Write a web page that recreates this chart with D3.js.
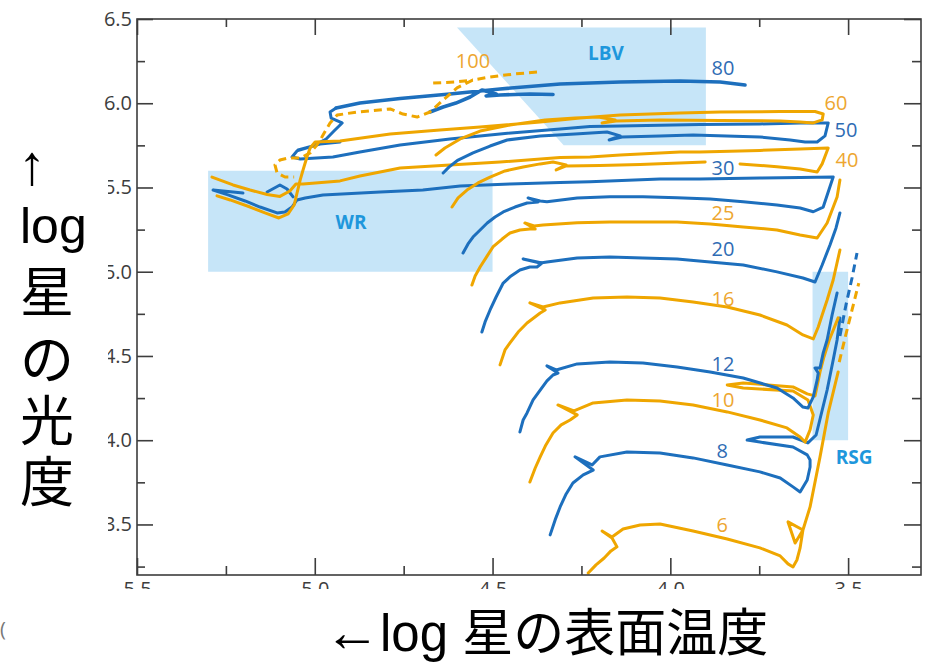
<!DOCTYPE html>
<html>
<head>
<meta charset="utf-8">
<script src="https://cdn.jsdelivr.net/npm/d3@7"></script>
<style>
  html, body { margin: 0; padding: 0; background: #fff; }
  svg { display: block; }
</style>
</head>
<body>
<svg id="chart" width="926" height="664"></svg>
<script>
// ---- Axis ticks -------------------------------------------------------
const xMajorTicks = [5.5, 5.0, 4.5, 4.0, 3.5];
const xMinorTicks = [5.25, 4.75, 4.25, 3.75];
const yMajorTicks = [6.5, 6.0, 5.5, 5.0, 4.5, 4.0, 3.5];
const yMinorTicks = [6.25, 5.75, 5.25, 4.75, 4.25, 3.75, 3.25];

// ---- Evolutionary tracks: [log Teff, log L]; null breaks a track -----
const track100 = [[4.375,6.185],[4.437,6.174],[4.507,6.156],[4.555,6.138],[4.600,6.091],[4.639,6.019],[4.676,5.948],[4.712,5.918],[4.752,5.936],[4.788,5.966],[4.881,5.948],[4.937,5.930],[4.957,5.883],[4.980,5.800],[4.994,5.752],[5.013,5.705],[5.041,5.675],[5.075,5.675],[5.098,5.663],[5.112,5.634],[5.106,5.586],[5.084,5.562],[5.058,5.562],
  null,[4.667,6.120],[4.606,6.126],[4.555,6.138]];

const track80 = [[4.676,5.948],[4.639,5.978],[4.603,6.001],[4.563,6.037],[4.530,6.079],[4.490,6.055],[4.518,6.043],[4.479,6.049],[4.395,6.055],[4.330,6.052],
  null,[4.940,5.972],[4.873,6.001],[4.760,6.028],[4.620,6.055],[4.479,6.085],[4.310,6.114],[4.141,6.126],[3.973,6.132],[3.860,6.126],[3.790,6.108]];

const track60 = [[4.659,5.693],[4.634,5.734],[4.591,5.788],[4.535,5.835],[4.451,5.871],[4.352,5.901],[4.268,5.912],[4.203,5.918],[4.155,5.901],[4.192,5.883],[4.153,5.895],[4.029,5.901],[3.860,5.898],[3.691,5.895],[3.635,5.889],[3.598,5.883],[3.573,5.901],[3.570,5.936],[3.593,5.951],[3.691,5.951],[3.860,5.948],[3.973,5.942],[4.141,5.930],[4.254,5.912],[4.366,5.889],[4.535,5.859],[4.648,5.841],[4.788,5.818],[4.929,5.776],[4.999,5.770],[5.013,5.734],[5.022,5.681],[5.033,5.604],[5.041,5.545],[5.050,5.467],[5.058,5.396],[5.075,5.343],[5.101,5.319],[5.140,5.349],[5.182,5.384],[5.238,5.426],[5.275,5.450]];

const track50 = [[4.639,5.586],[4.622,5.622],[4.597,5.663],[4.555,5.705],[4.507,5.746],[4.459,5.782],[4.366,5.806],[4.268,5.818],[4.178,5.829],[4.141,5.806],[4.172,5.782],[4.136,5.800],[4.029,5.806],[3.936,5.812],[3.748,5.800],[3.663,5.782],[3.621,5.770],[3.587,5.770],[3.565,5.806],[3.556,5.883],[3.635,5.883],[3.748,5.877],[3.917,5.874],[4.141,5.865],[4.226,5.862],[4.310,5.847],[4.479,5.818],[4.620,5.788],[4.760,5.752],[4.873,5.711],[4.949,5.681],[5.041,5.669],[5.064,5.681],[5.050,5.717],[5.005,5.746],[4.968,5.788],[4.946,5.835],[4.923,5.883],[4.954,5.912],[4.957,5.948],[4.940,5.972],
  null,[5.047,5.723],[4.985,5.758],[4.929,5.770]];

const track40 = [[4.614,5.384],[4.597,5.438],[4.572,5.485],[4.541,5.527],[4.507,5.562],[4.465,5.598],[4.414,5.622],[4.366,5.640],[4.330,5.651],[4.293,5.634],[4.321,5.604],[4.293,5.628],[4.198,5.631],[4.085,5.637],[3.902,5.651],
  null,[3.804,5.640],[3.700,5.623],[3.635,5.610],[3.587,5.592],[3.573,5.640],[3.556,5.734],[3.635,5.728],[3.748,5.720],[3.917,5.711],[3.973,5.711],[4.141,5.693],[4.226,5.681],[4.310,5.678],[4.479,5.651],[4.620,5.634],[4.760,5.616],[4.788,5.604],[4.873,5.568],[4.929,5.539],[5.033,5.521],[5.053,5.521],[5.070,5.479],[5.098,5.447],[5.134,5.458],[5.182,5.485],[5.230,5.515],[5.289,5.562]];

const track30 = [[4.583,5.111],[4.569,5.165],[4.555,5.206],[4.535,5.248],[4.515,5.289],[4.493,5.325],[4.470,5.355],[4.437,5.384],[4.403,5.408],[4.372,5.414],[4.400,5.438],[4.366,5.420],[4.347,5.416],[4.262,5.438],[4.170,5.445],[4.077,5.445],[3.981,5.439],[3.888,5.432],[3.795,5.416],[3.700,5.396],[3.635,5.378],[3.598,5.356],[3.570,5.384],[3.542,5.562],[3.635,5.559],[3.748,5.556],[3.917,5.550],[4.029,5.550],[4.226,5.534],[4.310,5.530],[4.451,5.521],[4.591,5.509],[4.696,5.485],[4.816,5.473],[4.977,5.456],[5.027,5.438],[5.050,5.426],[5.064,5.384],[5.084,5.355],[5.106,5.349],[5.154,5.384],[5.196,5.420],[5.244,5.456],[5.286,5.485],[5.202,5.467],
  null,[5.134,5.473],[5.098,5.515],[5.078,5.491],[5.061,5.444]];

const track25 = [[4.558,4.921],[4.549,4.975],[4.535,5.028],[4.515,5.094],[4.499,5.147],[4.473,5.194],[4.451,5.230],[4.423,5.248],[4.395,5.254],[4.380,5.254],[4.409,5.289],[4.383,5.272],[4.358,5.277],[4.262,5.291],[4.170,5.295],[4.077,5.295],[3.981,5.295],[3.888,5.283],[3.795,5.266],[3.700,5.248],[3.635,5.218],[3.587,5.200],[3.559,5.289],[3.531,5.444],[3.523,5.545]];

const track20 = [[4.530,4.642],[4.521,4.702],[4.507,4.773],[4.490,4.850],[4.470,4.933],[4.448,4.975],[4.423,5.010],[4.395,5.028],[4.375,5.028],[4.361,5.052],[4.414,5.076],[4.366,5.052],[4.347,5.058],[4.262,5.082],[4.170,5.088],[4.077,5.082],[3.981,5.076],[3.888,5.058],[3.795,5.040],[3.700,4.999],[3.627,4.963],[3.593,4.939],[3.573,5.040],[3.551,5.159],[3.534,5.260],[3.523,5.349]];

const track16 = [[4.479,4.447],[4.465,4.536],[4.451,4.577],[4.428,4.642],[4.403,4.696],[4.366,4.755],[4.352,4.773],[4.395,4.815],[4.358,4.791],[4.310,4.815],[4.217,4.844],[4.122,4.850],[4.029,4.844],[3.936,4.820],[3.840,4.791],[3.748,4.743],[3.672,4.684],[3.627,4.625],[3.598,4.601],[3.584,4.672],[3.573,4.743],[3.559,4.832],[3.542,4.951],[3.523,5.129]];

const track12 = [[4.423,4.049],[4.414,4.120],[4.403,4.162],[4.386,4.239],[4.366,4.298],[4.347,4.352],[4.330,4.387],[4.316,4.399],[4.347,4.441],[4.321,4.417],[4.262,4.453],[4.170,4.464],[4.077,4.458],[3.981,4.435],[3.888,4.405],[3.795,4.369],[3.700,4.310],[3.655,4.251],[3.627,4.197],[3.613,4.191],[3.598,4.257],[3.587,4.358],[3.584,4.399],[3.593,4.429],[3.579,4.429],[3.570,4.518],[3.559,4.595],[3.545,4.743],[3.531,4.874]];

const track10 = [[4.395,3.752],[4.380,3.835],[4.366,3.901],[4.350,3.972],[4.330,4.043],[4.307,4.091],[4.282,4.120],[4.262,4.150],[4.316,4.209],[4.271,4.174],[4.217,4.221],[4.122,4.239],[4.029,4.233],[3.936,4.209],[3.840,4.168],[3.748,4.120],[3.672,4.073],[3.635,4.019],[3.621,3.989],[3.607,4.061],[3.598,4.150],[3.613,4.239],[3.655,4.292],[3.795,4.310],[3.840,4.328],[3.795,4.340],[3.655,4.316],[3.615,4.275],[3.593,4.263],[3.579,4.405],[3.568,4.494],[3.553,4.595],[3.528,4.726]];

const track8 = [[4.338,3.438],[4.324,3.527],[4.310,3.604],[4.293,3.681],[4.274,3.746],[4.245,3.794],[4.217,3.823],[4.268,3.901],[4.220,3.853],[4.198,3.901],[4.122,3.930],[4.029,3.924],[3.936,3.895],[3.840,3.853],[3.748,3.812],[3.691,3.776],[3.655,3.723],[3.635,3.693],[3.615,3.764],[3.607,3.841],[3.607,3.883],[3.615,3.913],[3.655,3.960],[3.748,3.989],[3.784,4.001],[3.748,4.019],[3.655,4.019],[3.613,3.984],[3.590,4.031],[3.559,4.298],[3.542,4.476],[3.531,4.595],[3.523,4.726]];

const track6 = [[4.231,3.212],[4.209,3.260],[4.186,3.301],[4.167,3.343],[4.150,3.367],[4.164,3.420],[4.192,3.461],[4.164,3.426],[4.133,3.473],[4.085,3.497],[4.029,3.503],[3.936,3.461],[3.840,3.414],[3.748,3.361],[3.691,3.313],[3.669,3.266],[3.655,3.248],[3.644,3.289],[3.635,3.361],[3.627,3.467],[3.669,3.515],[3.649,3.390],[3.627,3.467],[3.607,3.604],[3.579,3.901],[3.556,4.162],[3.528,4.405]];

// late (dashed) red-supergiant continuations
const track8Late = [[3.523,4.619],[3.506,4.803],[3.489,4.963],[3.475,5.111]];
const track6Late = [[3.525,4.464],[3.508,4.613],[3.489,4.773],[3.470,4.933]];

// ---- Mass labels (M_sun) and where they sit --------------------------
const massNames  = ["100", "80", "60", "50", "40", "30", "25", "20", "16", "12", "10", "8", "6"];
const massLabelT = [4.555, 3.852, 3.534, 3.506, 3.503, 3.852, 3.852, 3.852, 3.852, 3.852, 3.852, 3.854, 3.854];
const massLabelL = [6.251, 6.215, 6.007, 5.847, 5.669, 5.616, 5.349, 5.135, 4.844, 4.458, 4.239, 3.936, 3.497];

// ---- Phase regions ---------------------------------------------------
const regionNames = ["WR", "LBV", "RSG"];
const regionShapes = [
  [[5.3, 5.6], [4.5, 5.6], [4.5, 5.0], [5.3, 5.0]],
  [[4.6, 6.45], [3.9, 6.45], [3.9, 5.75], [4.3, 5.75]],
  [[3.6, 5.0], [3.5, 5.0], [3.5, 4.0], [3.6, 4.0]]
];
const regionLabelT = [4.898, 4.181, 3.483];
const regionLabelL = [5.295, 6.298, 3.901];

// ---- Drawing ---------------------------------------------------------
const BLUE = "#1d6fbd", ORANGE = "#efa600";
const BLUE_TEXT = "#2f6cb4", ORANGE_TEXT = "#eda630";
const REGION_FILL = "#c6e5f8", REGION_TEXT = "#1e97dc";
const AXIS = "#3d3d3d";

const series = [
  { pts: track6,  color: ORANGE }, { pts: track8,  color: BLUE },
  { pts: track10, color: ORANGE }, { pts: track12, color: BLUE },
  { pts: track16, color: ORANGE }, { pts: track20, color: BLUE },
  { pts: track25, color: ORANGE }, { pts: track30, color: BLUE },
  { pts: track40, color: ORANGE }, { pts: track50, color: BLUE },
  { pts: track60, color: ORANGE }, { pts: track80, color: BLUE, wide: true },
  { pts: track100, color: ORANGE, dashed: true },
  { pts: track8Late, color: BLUE, dashed: true },
  { pts: track6Late, color: ORANGE, dashed: true }
];
const labelColors = massNames.map((m, i) => i % 2 === 0 ? ORANGE_TEXT : BLUE_TEXT);

const svg = d3.select("#chart");
const x = d3.scaleLinear().domain([5.5, 3.295]).range([137, 921]);
const y = d3.scaleLinear().domain([3.2, 6.5]).range([575, 19]);

// shaded phase regions
svg.append("g").selectAll("path")
  .data(regionShapes)
  .join("path")
  .attr("d", d => "M" + d.map(p => [x(p[0]), y(p[1])].join(",")).join("L") + "Z")
  .attr("fill", REGION_FILL);

// tracks
const line = d3.line()
  .defined(d => d !== null)
  .x(d => x(d[0]))
  .y(d => y(d[1]));

svg.append("g").selectAll("path")
  .data(series)
  .join("path")
  .attr("d", d => line(d.pts))
  .attr("fill", "none")
  .attr("stroke", d => d.color)
  .attr("stroke-width", d => d.wide ? 3.6 : 3)
  .attr("stroke-linejoin", "round")
  .attr("stroke-linecap", d => d.dashed ? "butt" : "round")
  .attr("stroke-dasharray", d => d.dashed ? "8,5" : null);

// mass labels
svg.append("g").selectAll("text")
  .data(massNames)
  .join("text")
  .attr("x", (d, i) => x(massLabelT[i]))
  .attr("y", (d, i) => y(massLabelL[i]))
  .attr("text-anchor", "middle")
  .attr("dominant-baseline", "central")
  .attr("font-family", "'Open Sans', 'Noto Sans', sans-serif")
  .attr("font-size", 20)
  .attr("fill", (d, i) => labelColors[i])
  .text(d => d);

// region labels
svg.append("g").selectAll("text")
  .data(regionNames)
  .join("text")
  .attr("x", (d, i) => x(regionLabelT[i]))
  .attr("y", (d, i) => y(regionLabelL[i]))
  .attr("text-anchor", "middle")
  .attr("dominant-baseline", "central")
  .attr("font-family", "'Open Sans', 'Noto Sans', sans-serif")
  .attr("font-weight", 700)
  .attr("font-size", 19)
  .attr("fill", REGION_TEXT)
  .text(d => d);

// axes: ticks point inward on all four sides
const fmt = d3.format(".1f");
function styleAxis(g) {
  g.select(".domain").remove();
  g.selectAll(".tick line").attr("stroke", AXIS).attr("stroke-width", 1.6);
  g.selectAll(".tick text")
    .attr("fill", AXIS)
    .attr("font-family", "'Open Sans', 'Noto Sans', sans-serif")
    .attr("font-size", 20);
}
svg.append("g").attr("transform", "translate(0,575)")
  .call(d3.axisBottom(x).tickValues(xMajorTicks).tickSize(-17).tickPadding(7).tickFormat(fmt)).call(styleAxis);
svg.append("g").attr("transform", "translate(0,575)")
  .call(d3.axisBottom(x).tickValues(xMinorTicks).tickSize(-9).tickFormat("")).call(styleAxis);
svg.append("g").attr("transform", "translate(0,19)")
  .call(d3.axisTop(x).tickValues(xMajorTicks).tickSize(-16).tickFormat("")).call(styleAxis);
svg.append("g").attr("transform", "translate(0,19)")
  .call(d3.axisTop(x).tickValues(xMinorTicks).tickSize(-8).tickFormat("")).call(styleAxis);
svg.append("g").attr("transform", "translate(137,0)")
  .call(d3.axisLeft(y).tickValues(yMajorTicks).tickSize(-16).tickPadding(5).tickFormat(fmt)).call(styleAxis);
svg.append("g").attr("transform", "translate(137,0)")
  .call(d3.axisLeft(y).tickValues(yMinorTicks).tickSize(-8).tickFormat("")).call(styleAxis);
svg.append("g").attr("transform", "translate(921,0)")
  .call(d3.axisRight(y).tickValues(yMajorTicks).tickSize(-17).tickFormat("")).call(styleAxis);
svg.append("g").attr("transform", "translate(921,0)")
  .call(d3.axisRight(y).tickValues(yMinorTicks).tickSize(-9).tickFormat("")).call(styleAxis);

// frame
svg.append("rect")
  .attr("x", 137).attr("y", 19).attr("width", 784).attr("height", 556)
  .attr("fill", "none").attr("stroke", AXIS).attr("stroke-width", 1.6);

// title panels sit on white over the tick labels
svg.append("rect").attr("x", 0).attr("y", 135).attr("width", 108).attr("height", 425).attr("fill", "#fff");
svg.append("rect").attr("x", 0).attr("y", 589).attr("width", 926).attr("height", 75).attr("fill", "#fff");

const TITLE_FONT = "'Liberation Sans', Arial, 'Noto Sans CJK JP', sans-serif";

// y title, one glyph per line
const yTitle = ["↑", "log", "星", "の", "光", "度"];
const yTitleBase = [184, 243, 312, 380, 441, 502];
const yTitleSize = [56, 50, 54, 54, 54, 54];
svg.append("g").selectAll("text")
  .data(yTitle)
  .join("text")
  .attr("x", (d, i) => i === 0 ? 18 : 20)
  .attr("y", (d, i) => yTitleBase[i])
  .attr("font-family", TITLE_FONT)
  .attr("font-size", (d, i) => yTitleSize[i])
  .attr("fill", "#000")
  .text(d => d);

// x title
const xTitle = svg.append("text")
  .attr("x", 324).attr("y", 651)
  .attr("font-family", TITLE_FONT)
  .attr("font-size", 51)
  .attr("fill", "#000");
xTitle.append("tspan").attr("font-size", 56).text("←");
xTitle.append("tspan").text("log 星の表面温度");

// clipped glyph at the lower-left edge
svg.append("text")
  .attr("x", 0).attr("y", 636)
  .attr("font-family", "'Open Sans', sans-serif")
  .attr("font-size", 20)
  .attr("fill", "#777")
  .text("(");
</script>
</body>
</html>
